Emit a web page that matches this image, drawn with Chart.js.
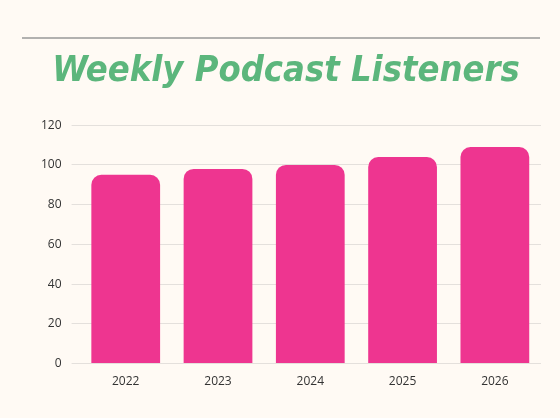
<!DOCTYPE html>
<html>
<head>
<meta charset="utf-8">
<script src="https://cdn.jsdelivr.net/npm/chart.js@4"></script>
<style>
  html, body { margin: 0; padding: 0; background: #fffaf4; }
  #wrap { width: 560px; height: 418px; position: relative; }
</style>
</head>
<body>
<div id="wrap"><canvas id="chart"></canvas></div>
<script>
const years = ['2022', '2023', '2024', '2025', '2026'];
const listeners = [95, 98, 100, 104, 109];
const yTicks = [0, 20, 40, 60, 80, 100, 120];

// thin rule above the title
const topRule = {
  id: 'topRule',
  beforeDraw(chart) {
    const c = chart.ctx;
    c.save();
    c.strokeStyle = '#999';
    c.lineWidth = 1.5;
    c.beginPath();
    c.moveTo(22, 38);
    c.lineTo(540, 38);
    c.stroke();
    c.restore();
  }
};

new Chart(document.getElementById('chart'), {
  type: 'bar',
  data: {
    labels: years,
    datasets: [{
      data: listeners,
      backgroundColor: '#ee3590',
      borderRadius: { topLeft: 10, topRight: 10 },
      borderSkipped: 'bottom',
      categoryPercentage: 0.745,
      barPercentage: 1
    }]
  },
  options: {
    responsive: true,
    maintainAspectRatio: false,
    animation: false,
    layout: { padding: { left: 31, right: 19, top: 50, bottom: 26 } },
    plugins: {
      legend: { display: false },
      tooltip: { enabled: false },
      title: {
        display: true,
        text: 'Weekly Podcast Listeners',
        color: '#5cb67c',
        font: { family: '"Liberation Sans Narrow", "DejaVu Sans Condensed", sans-serif', size: 36, weight: 'bold', style: 'italic' },
        padding: { top: 0, bottom: 32 }
      }
    },
    scales: {
      x: {
        grid: { display: false },
        border: { display: false },
        ticks: { color: '#333', font: { family: 'Open Sans', size: 12 } }
      },
      y: {
        min: 0, max: 120,
        afterBuildTicks(axis) { axis.ticks = yTicks.map(v => ({ value: v })); },
        grid: { color: '#e4e0dc' },
        border: { display: false },
        ticks: { color: '#333', padding: 10, font: { family: 'Open Sans', size: 12 } }
      }
    }
  },
  plugins: [topRule]
});
</script>
</body>
</html>
